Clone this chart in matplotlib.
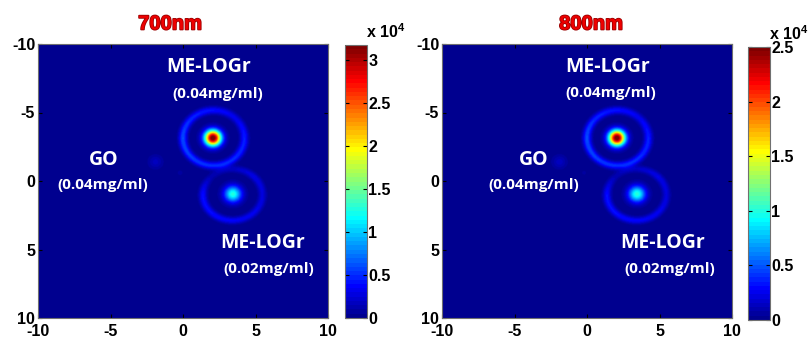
import numpy as np
import matplotlib
matplotlib.use("Agg")
import matplotlib.pyplot as plt
from matplotlib.colors import ListedColormap
import matplotlib.patheffects as pe

plt.rcParams['font.family'] = ['Liberation Sans', 'DejaVu Sans']
plt.rcParams['mathtext.fontset'] = 'custom'
plt.rcParams['mathtext.rm'] = 'Liberation Sans:bold'
plt.rcParams['mathtext.bf'] = 'Liberation Sans:bold'

# ---------------- data (intensity in units of 1e4) ----------------
titles = ["700nm", "800nm"]
vmax = [3.17, 2.5]
cbar_ticks = [[0, 0.5, 1, 1.5, 2, 2.5, 3], [0, 0.5, 1, 1.5, 2, 2.5]]
axis_ticks = [-10, -5, 0, 5, 10]

# bright spots: x, y, amplitude per panel, sigma
spot_x = [2.07, 3.45, -1.9, -0.2]
spot_y = [-3.15, 0.95, -1.4, -0.6]
spot_amp_700 = [3.30, 1.28, 0.17, 0.07]
spot_amp_800 = [2.60, 1.02, 0.14, 0.05]
spot_sigma = [0.40, 0.42, 0.36, 0.2]

# rings: centre, radii, width; amplitude sampled at angles (0=right, 90=bottom)
ring_angles = [0, 45, 90, 135, 180, 225, 270, 315]
ring_cx = [2.12, 3.43]
ring_cy = [-3.15, 1.0]
ring_rx = [2.12, 2.05]
ring_ry = [2.02, 1.88]
ring_w = [0.20, 0.19]
ring_amp_700 = [[0.45, 0.50, 0.50, 0.55, 0.60, 0.48, 0.40, 0.32],
                [0.26, 0.32, 0.36, 0.40, 0.40, 0.12, 0.18, 0.30]]
ring_amp_800 = [[0.36, 0.40, 0.40, 0.44, 0.48, 0.38, 0.32, 0.26],
                [0.20, 0.26, 0.29, 0.32, 0.32, 0.10, 0.15, 0.24]]
background = 0.0

# labels (data coords) per panel
labels_700 = [("ME-LOGr", 1.75, -8.35, 14), ("(0.04mg/ml)", 2.4, -6.35, 11),
              ("GO", -5.5, -1.5, 14), ("(0.04mg/ml)", -5.5, 0.3, 11),
              ("ME-LOGr", 5.5, 4.5, 14), ("(0.02mg/ml)", 5.9, 6.4, 11)]
labels_800 = [("ME-LOGr", 1.4, -8.3, 14), ("(0.04mg/ml)", 1.65, -6.4, 11),
              ("GO", -3.7, -1.5, 14), ("(0.04mg/ml)", -3.7, 0.3, 11),
              ("ME-LOGr", 5.2, 4.5, 14), ("(0.02mg/ml)", 5.7, 6.4, 11)]


# MATLAB-style jet(64)
def matlab_jet(m=64):
    n = int(np.ceil(m / 4))
    u = np.concatenate([np.arange(1, n + 1) / n, np.ones(n - 1), np.arange(n, 0, -1) / n])
    g = int(np.ceil(n / 2)) - (1 if m % 4 == 1 else 0) + np.arange(1, len(u) + 1)
    r = g + n
    b = g - n
    J = np.zeros((m, 3))
    for idx, col in ((r, 0), (g, 1), (b, 2)):
        ok = (idx >= 1) & (idx <= m)
        J[idx[ok] - 1, col] = u[ok]
    return ListedColormap(J)


cmap = matlab_jet(64)

N = 500
xs = np.linspace(-10, 10, N)
X, Y = np.meshgrid(xs, xs)


def field(spot_amp, ring_amp):
    Z = np.full_like(X, background)
    for x0, y0, a, s in zip(spot_x, spot_y, spot_amp, spot_sigma):
        Z += a * np.exp(-((X - x0) ** 2 + (Y - y0) ** 2) / (2 * s ** 2))
    for i in range(len(ring_cx)):
        dx = (X - ring_cx[i]) / ring_rx[i]
        dy = (Y - ring_cy[i]) / ring_ry[i]
        rr = np.sqrt(dx ** 2 + dy ** 2)
        th = np.degrees(np.arctan2(dy, dx)) % 360
        ang = list(ring_angles) + [360]
        amps = list(ring_amp[i]) + [ring_amp[i][0]]
        A = np.interp(th, ang, amps)
        rad = 0.5 * (ring_rx[i] + ring_ry[i])
        Z += A * np.exp(-((rr - 1) * rad) ** 2 / (2 * ring_w[i] ** 2))
    return np.clip(Z, 0, None)


fields = [field(spot_amp_700, ring_amp_700), field(spot_amp_800, ring_amp_800)]
all_labels = [labels_700, labels_800]

W, H = 809, 338
fig = plt.figure(figsize=(W / 100, H / 100), dpi=100)


def fx(px):
    return px / W


def fy(py):
    return 1 - py / H


ax_pos = [(38, 44, 290, 274), (442, 44, 290, 274)]
cb_pos = [(345, 45, 22, 273), (748, 47, 22, 273)]
spine_col = '#707070'

for k in range(2):
    l, t, w, h = ax_pos[k]
    ax = fig.add_axes([fx(l), fy(t + h), w / W, h / H])
    im = ax.imshow(fields[k], cmap=cmap, vmin=0, vmax=vmax[k],
                   extent=[-10, 10, 10, -10], aspect='auto', interpolation='bilinear')
    ax.set_xlim(-10, 10)
    ax.set_ylim(10, -10)
    ax.set_xticks(axis_ticks)
    ax.set_yticks(axis_ticks)
    ax.set_xticklabels([str(v) for v in axis_ticks])
    ax.set_yticklabels([str(v) for v in axis_ticks])
    ax.tick_params(direction='in', length=3, width=0.8, top=True, right=True,
                   labelsize=11.5, color='black')
    ax.tick_params(axis='x', pad=4)
    ax.tick_params(axis='y', pad=2)
    for lab in ax.get_xticklabels() + ax.get_yticklabels():
        lab.set_fontweight('bold')
    for s in ax.spines.values():
        s.set_color(spine_col)
        s.set_linewidth(0.8)

    for txt, x, y, fs in all_labels[k]:
        ax.text(x, y, txt, color='white', fontsize=fs, fontweight='bold',
                family=['Open Sans', 'DejaVu Sans'], ha='center', va='center')

    # title
    tcx = [170, 591][k]
    fig.text(fx(tcx), fy(24), titles[k], color='#ee0000', fontsize=14.5,
             fontweight='bold', ha='center', va='center',
             path_effects=[pe.withStroke(linewidth=1.2, foreground='#990000')])

    # colorbar
    cl, ct, cw, ch = cb_pos[k]
    cax = fig.add_axes([fx(cl), fy(ct + ch), cw / W, ch / H])
    cb = fig.colorbar(im, cax=cax)
    cb.set_ticks(cbar_ticks[k])
    cb.set_ticklabels([('%g' % v) for v in cbar_ticks[k]])
    cax.tick_params(direction='in', length=3, width=0.8, left=True, right=True,
                    labelsize=11.5, pad=1)
    for lab in cax.get_yticklabels():
        lab.set_fontweight('bold')
    cb.outline.set_edgecolor(spine_col)
    cb.outline.set_linewidth(0.8)
    fig.text(fx(cl + cw - 1), fy(ct - 4), r'x 10$^{4}$', fontsize=11.5,
             fontweight='bold', ha='left', va='bottom')

fig.savefig('out.png', dpi=100)
